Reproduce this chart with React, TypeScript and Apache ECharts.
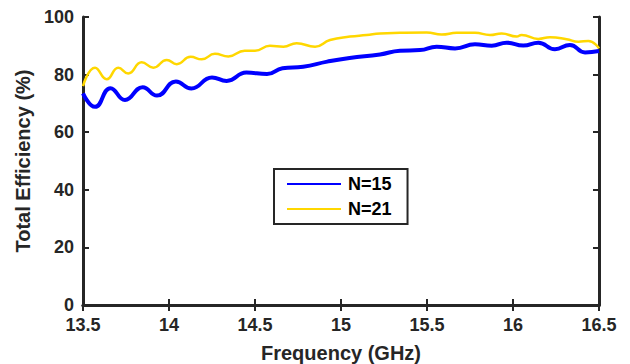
import React, { useEffect, useRef } from "react";
import * as echarts from "echarts";

const xTicks = { min: 13.5, max: 16.5, interval: 0.5 };
const yTicks = { min: 0, max: 100, interval: 20 };

const n15Freq = [13.5, 13.57, 13.66, 13.744, 13.847, 13.93, 14.04, 14.13, 14.25, 14.335, 14.45, 14.57, 14.66, 14.78, 14.92, 15.05, 15.227, 15.343, 15.459, 15.556, 15.663, 15.779, 15.876, 15.963, 16.06, 16.147, 16.244, 16.331, 16.419, 16.5];
const n15Eff = [73.5, 68.8, 75.3, 71.2, 75.6, 72.7, 77.6, 75.2, 79.0, 77.8, 80.7, 80.2, 82.2, 82.7, 84.5, 85.8, 87.0, 88.3, 88.5, 89.7, 89.1, 90.5, 90.0, 91.1, 90.1, 91.1, 88.8, 90.3, 87.7, 88.2];

const n21Freq = [13.5, 13.57, 13.638, 13.705, 13.763, 13.841, 13.909, 13.987, 14.045, 14.126, 14.19, 14.267, 14.345, 14.44, 14.5, 14.587, 14.665, 14.742, 14.849, 14.936, 15.052, 15.149, 15.227, 15.343, 15.498, 15.585, 15.673, 15.779, 15.866, 15.934, 16.021, 16.05, 16.147, 16.215, 16.312, 16.38, 16.438, 16.5];
const n21Eff = [76.0, 82.4, 78.4, 82.4, 80.4, 84.3, 82.4, 85.1, 83.6, 86.2, 85.3, 87.2, 86.3, 88.3, 88.3, 90.0, 89.7, 90.9, 89.7, 92.0, 93.2, 93.75, 94.3, 94.5, 94.6, 93.9, 94.5, 94.5, 93.75, 94.3, 93.2, 93.75, 92.4, 93.0, 92.3, 91.4, 91.7, 89.1];

const seriesNames = ["N=15", "N=21"];
const xTitle = "Frequency (GHz)";
const yTitle = "Total Efficiency (%)";

const ink = "#262626";
const font = "'Liberation Sans', Arial, sans-serif";

export default function App() {
  const ref = useRef<HTMLDivElement>(null);
  useEffect(() => {
    if (!ref.current) return;
    const chart = echarts.init(ref.current, null, { renderer: "svg" });
    const axisLine = { show: true, lineStyle: { color: ink, width: 3 } };
    const axisTick = { show: true, inside: true, length: 6, lineStyle: { color: ink, width: 2 } };
    const label = { color: ink, fontSize: 18, fontWeight: "bold" as const, fontFamily: font };
    const zip = (xs: number[], ys: number[]) => xs.map((x, i) => [x, ys[i]]);
    chart.setOption({
      animation: false,
      backgroundColor: "#ffffff",
      grid: { left: 83, right: 31, top: 17, bottom: 59, containLabel: false, outerBoundsMode: "none" },
      legend: {
        orient: "vertical",
        left: 274,
        top: 169,
        padding: [6, 16, 6, 12],
        itemWidth: 54,
        itemHeight: 14,
        itemGap: 7,
        borderColor: ink,
        borderWidth: 2,
        backgroundColor: "#ffffff",
        itemStyle: { opacity: 0 },
        textStyle: { color: "#000000", fontSize: 18, fontWeight: "bold", fontFamily: font, padding: [0, 0, 0, 2] },
        data: seriesNames,
      },
      xAxis: [
        {
          type: "value",
          ...xTicks,
          position: "bottom",
          axisLine,
          axisTick,
          splitLine: { show: false },
          axisLabel: { ...label, margin: 11 },
          name: xTitle,
          nameLocation: "middle",
          nameGap: 38,
          nameTextStyle: { color: ink, fontSize: 20, fontWeight: "bold", fontFamily: font },
        },
        {
          type: "value",
          ...xTicks,
          position: "top",
          axisLine,
          axisTick,
          splitLine: { show: false },
          axisLabel: { show: false },
        },
      ],
      yAxis: [
        {
          type: "value",
          ...yTicks,
          position: "left",
          axisLine,
          axisTick,
          splitLine: { show: false },
          axisLabel: { ...label, margin: 9 },
          name: yTitle,
          nameLocation: "middle",
          nameGap: 50,
          nameTextStyle: { color: ink, fontSize: 20, fontWeight: "bold", fontFamily: font },
        },
        {
          type: "value",
          ...yTicks,
          position: "right",
          axisLine,
          axisTick,
          splitLine: { show: false },
          axisLabel: { show: false },
        },
      ],
      series: [
        {
          name: seriesNames[0],
          type: "line",
          smooth: 0.5,
          symbol: "none",
          data: zip(n15Freq, n15Eff),
          lineStyle: { color: "#0000ff", width: 4 },
          itemStyle: { color: "#0000ff" },
          z: 3,
        },
        {
          name: seriesNames[1],
          type: "line",
          smooth: 0.5,
          symbol: "none",
          data: zip(n21Freq, n21Eff),
          lineStyle: { color: "#ffd700", width: 2.5 },
          itemStyle: { color: "#ffd700" },
          z: 2,
        },
      ],
    });
    return () => chart.dispose();
  }, []);
  return <div ref={ref} style={{ position: "fixed", left: 0, top: 0, width: 630, height: 364 }} />;
}
